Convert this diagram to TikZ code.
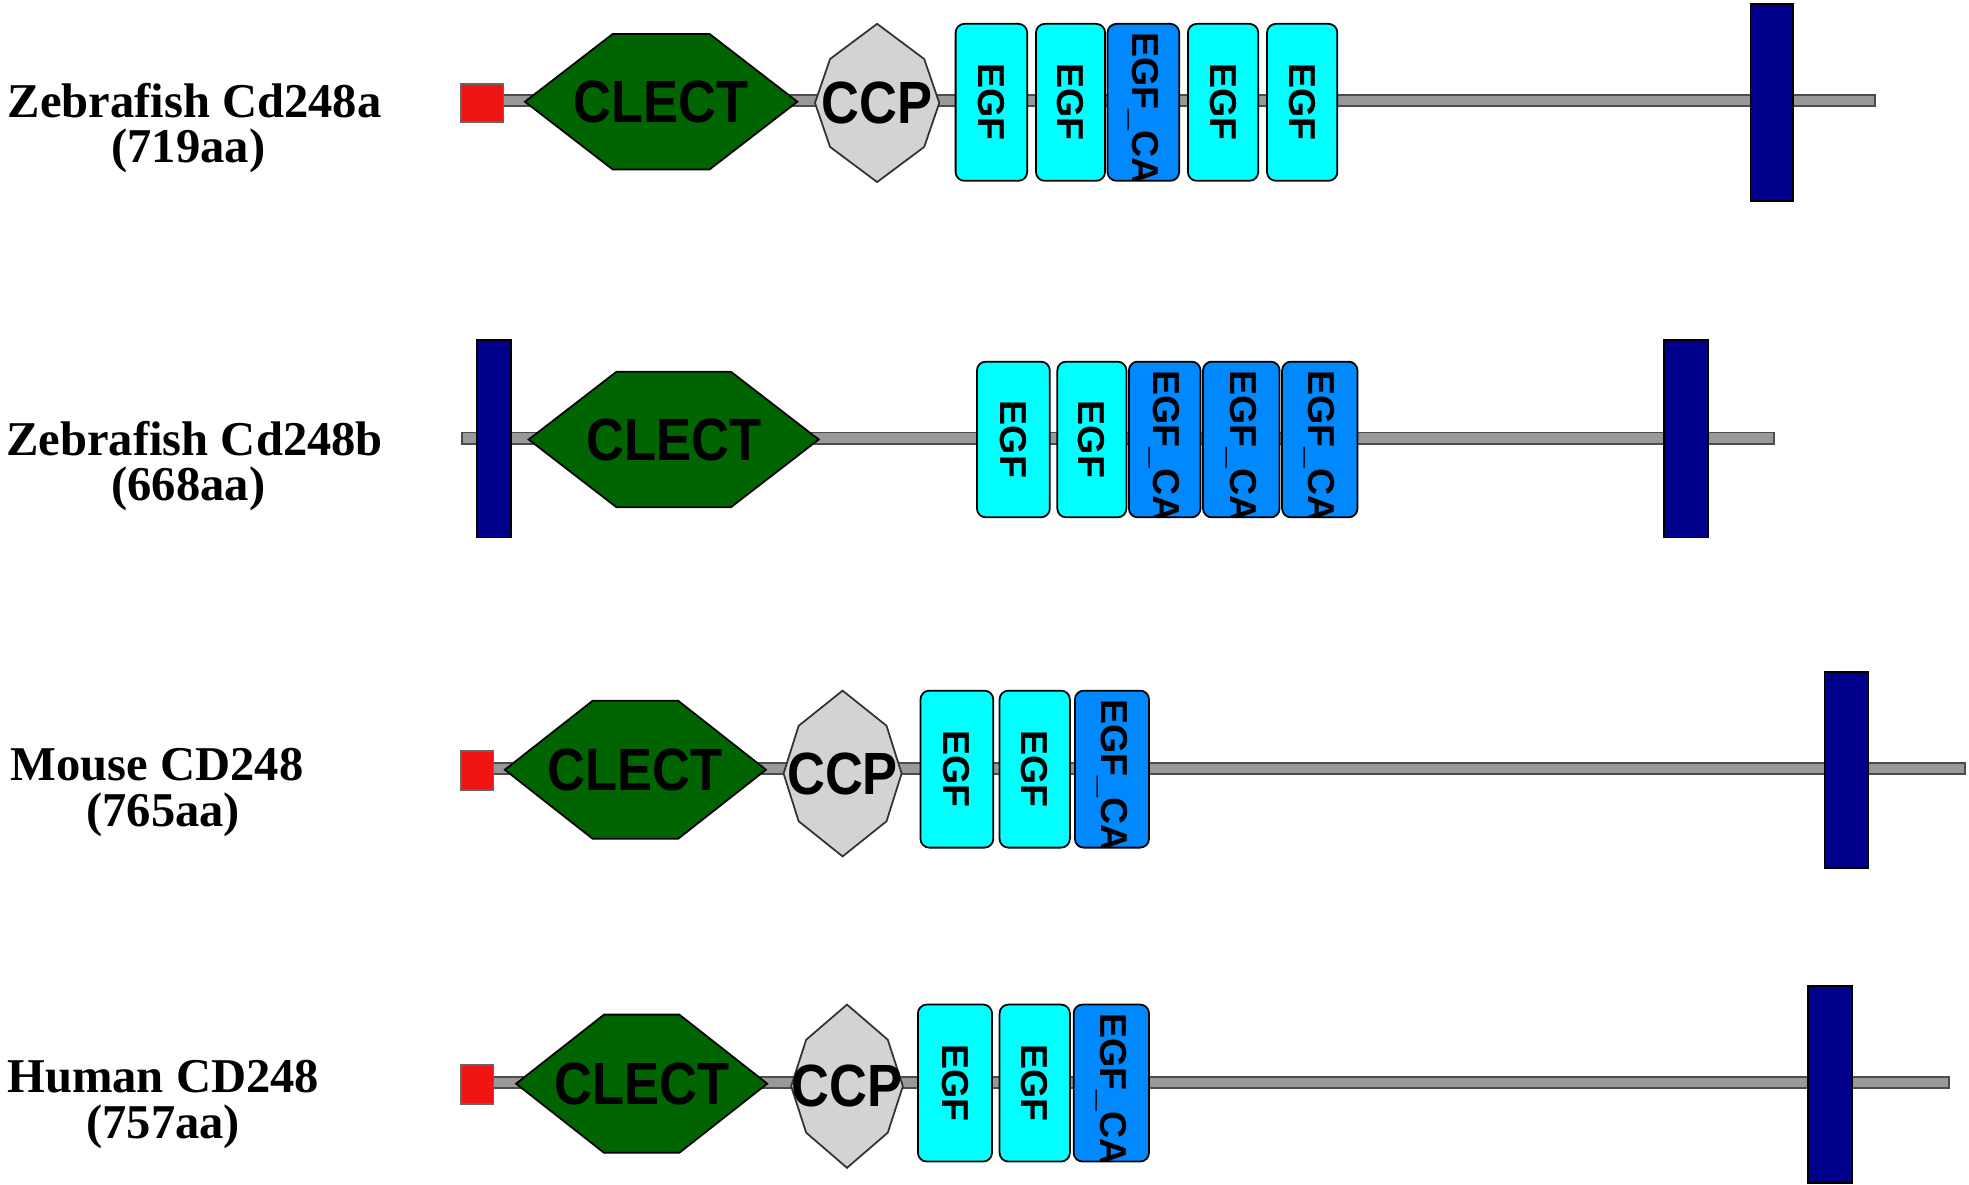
\documentclass[tikz,border=0pt]{standalone}
\usepackage{fontspec}
\setmainfont{Liberation Serif}
\setsansfont{Liberation Sans}
\tikzset{
  lbl/.style={font=\fontsize{11}{13}\selectfont\bfseries, inner sep=0pt},
  dom/.style={font=\sffamily\bfseries\fontsize{13.5}{15}\selectfont, inner sep=0pt, xscale=0.88},
  egftxt/.style={font=\sffamily\bfseries\fontsize{8.5}{9}\selectfont, inner sep=0pt, rotate=-90},
}
\definecolor{clectgreen}{RGB}{0,100,0}
\definecolor{ccpgray}{RGB}{211,211,211}
\definecolor{egfcyan}{RGB}{0,255,255}
\definecolor{egfblue}{RGB}{0,136,255}
\definecolor{tmblue}{RGB}{0,0,139}
\definecolor{sigred}{RGB}{240,20,20}
% backbone: y, x1, x2
\newcommand{\backbone}[3]{\draw[fill=gray!80, draw=black!70] (#2,#1-4.5) rectangle (#3,#1+4.5);}
% signal peptide: x1,x2,y1,y2
\newcommand{\sigpep}[4]{\draw[fill=sigred, draw=black!60] (#1,#3) rectangle (#2,#4);}
% transmembrane: x1,x2,y1,y2
\newcommand{\tmbox}[4]{\draw[fill=tmblue, draw=black] (#1,#3) rectangle (#2,#4);}
% CLECT hexagon: x1,x2,y1,y2,name
\newcommand{\clect}[5]{%
  \draw[fill=clectgreen, draw=black] (#1,{(#3+#4)/2}) -- (#1+70,#3) -- (#2-70,#3) -- (#2,{(#3+#4)/2})
    -- (#2-70,#4) -- (#1+70,#4) -- cycle;
  \node[dom] (#5) at ({(#1+#2)/2},{(#3+#4)/2}) {CLECT};}
% CCP octagon: x1,x2,y1,y2,name
\newcommand{\ccp}[5]{%
  \draw[fill=ccpgray, draw=black!80] ({(#1+#2)/2},#3) -- (#2-12,#3+28) -- (#2,{(#3+#4)/2}) -- (#2-12,#4-28)
    -- ({(#1+#2)/2},#4) -- (#1+12,#4-28) -- (#1,{(#3+#4)/2}) -- (#1+12,#3+28) -- cycle;
  \node[dom] (#5) at ({(#1+#2)/2},{(#3+#4)/2}) {CCP};}
% EGF box: x1,x2,y1,y2,name
\newcommand{\egf}[5]{%
  \draw[fill=egfcyan, draw=black, rounded corners=2] (#1,#3) rectangle (#2,#4);
  \node[egftxt] (#5) at ({(#1+#2)/2},{(#3+#4)/2}) {EGF};}
% EGF_CA box: x1,x2,y1,y2,name
\newcommand{\egfca}[5]{%
  \draw[fill=egfblue, draw=black, rounded corners=2] (#1,#3) rectangle (#2,#4);
  \begin{scope}
    \clip (#1,#3) rectangle (#2,#4);
    \node[egftxt, anchor=west] (#5) at ({(#1+#2)/2},#3+6) {EGF\_CA};
  \end{scope}}
\begin{document}
\begin{tikzpicture}[x=0.01cm, y=-0.01cm]
\useasboundingbox (0,0) rectangle (1568,943);

% Zebrafish Cd248a
\node[lbl] (za) at (155,80) {Zebrafish Cd248a};
\node[lbl] (zalen) at (150,120) {(719aa)};
\backbone{80}{370}{1493}
\sigpep{367}{401}{67}{97}
\clect{418}{635}{27}{135}{zaclect}
\ccp{649}{748}{19}{145}{zaccp}
\egf{761}{818}{19}{144}{zae1}
\egf{825}{880}{19}{144}{zae2}
\egfca{882}{939}{19}{144}{zae3}
\egf{946}{1002}{19}{144}{zae4}
\egf{1009}{1065}{19}{144}{zae5}
\tmbox{1394}{1428}{3}{160}

% Zebrafish Cd248b
\node[lbl] (zb) at (155,349) {Zebrafish Cd248b};
\node[lbl] (zblen) at (150,389) {(668aa)};
\backbone{349}{368}{1413}
\tmbox{380}{407}{271}{428}
\clect{421}{652}{296}{404}{zbclect}
\egf{778}{836}{288}{412}{zbe1}
\egf{842}{897}{288}{412}{zbe2}
\egfca{899}{956}{288}{412}{zbe3}
\egfca{958}{1019}{288}{412}{zbe4}
\egfca{1021}{1081}{288}{412}{zbe5}
\tmbox{1325}{1360}{271}{428}

% Mouse CD248
\node[lbl] (mo) at (125,609) {Mouse CD248};
\node[lbl] (molen) at (130,649) {(765aa)};
\backbone{612}{368}{1565}
\sigpep{367}{393}{598}{629}
\clect{402}{610}{558}{668}{moclect}
\ccp{624}{718}{550}{682}{moccp}
\egf{733}{791}{550}{675}{moe1}
\egf{796}{852}{550}{675}{moe2}
\egfca{856}{915}{550}{675}{moe3}
\tmbox{1453}{1488}{535}{691}

% Human CD248
\node[lbl] (hu) at (130,857) {Human CD248};
\node[lbl] (hulen) at (130,897) {(757aa)};
\backbone{862}{368}{1552}
\sigpep{367}{393}{848}{879}
\clect{411}{611}{808}{918}{huclect}
\ccp{630}{719}{800}{930}{huccp}
\egf{731}{790}{800}{925}{hue1}
\egf{796}{852}{800}{925}{hue2}
\egfca{855}{915}{800}{925}{hue3}
\tmbox{1440}{1475}{785}{942}
\end{tikzpicture}
\end{document}
